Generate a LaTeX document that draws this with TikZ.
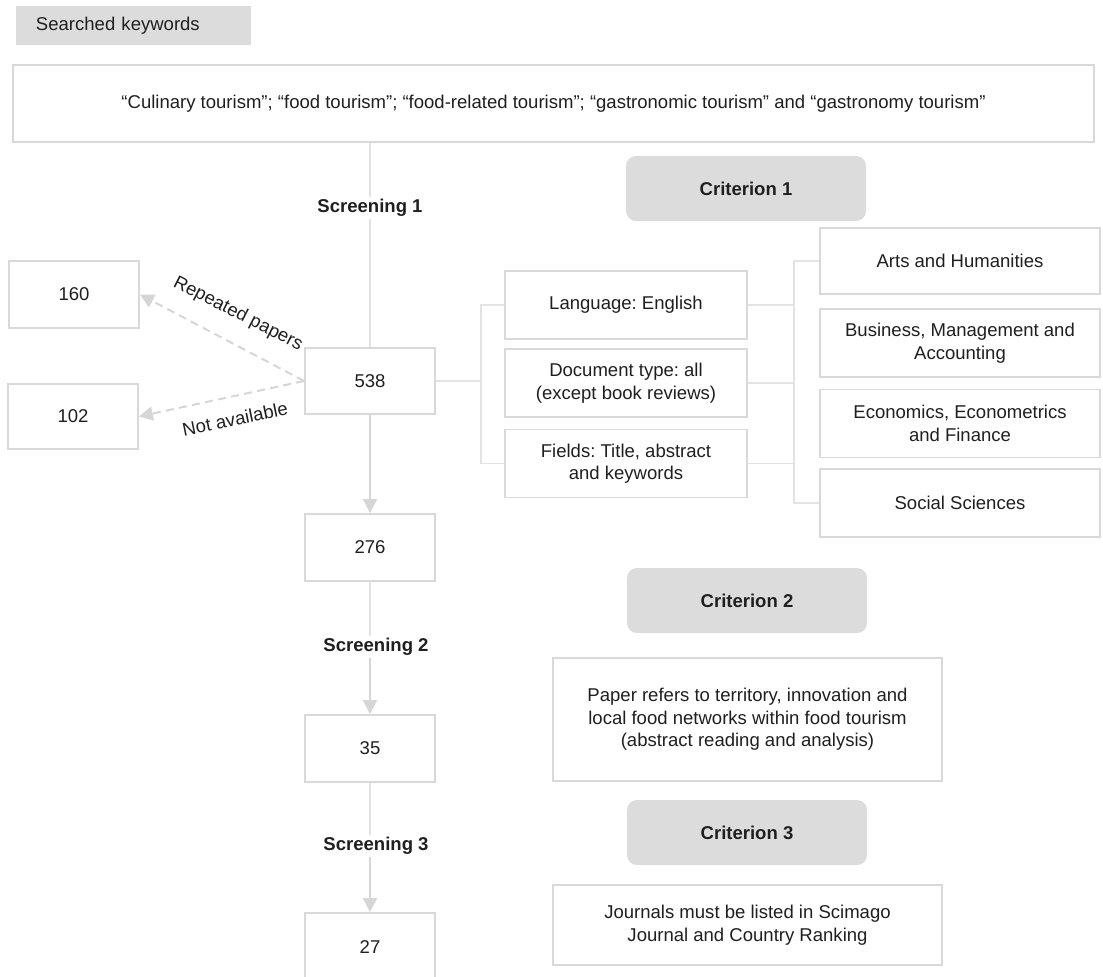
\documentclass[tikz,border=0pt]{standalone}
\usepackage{fontspec}
\setmainfont{Liberation Sans}
\usetikzlibrary{arrows.meta}
\definecolor{boxline}{HTML}{D9D9D9}
\definecolor{boxfill}{HTML}{DCDCDC}
\definecolor{connline}{HTML}{E3E3E3}
\definecolor{arrline}{HTML}{D6D6D6}
\frenchspacing
\begin{document}
\begin{tikzpicture}[x=0.75pt,y=-0.75pt,
  every node/.style={font=\fontsize{13.9}{16.9}\selectfont, text=black!88},
  box/.style={draw=boxline, line width=1.4pt, fill=white, align=center, inner sep=2pt},
  numbox/.style={box, minimum width=97.5pt, minimum height=50.25pt},
  critbox/.style={fill=boxfill, rounded corners=7.5pt, minimum width=180pt, minimum height=48.75pt, font=\fontsize{13.9}{16.9}\selectfont\bfseries},
  screen/.style={fill=white, inner sep=1.5pt, font=\fontsize{13.9}{16.9}\selectfont\bfseries},
  conn/.style={draw=connline, line width=1pt},
  arr/.style={draw=arrline, line width=1.5pt, -{Triangle[width=10.5pt,length=10.5pt]}},
  darr/.style={draw=arrline, line width=1.5pt, dash pattern=on 6pt off 4pt, -{Triangle[width=10.5pt,length=10.5pt]}}
]
\useasboundingbox (0,0) rectangle (1103,976);

% header
\node[fill=boxfill, minimum width=176.25pt, minimum height=29.25pt, text width=146.25pt, inner xsep=15pt, align=left] (kw) at (133.5,25.5) {Searched keywords};
\node[box, minimum width=810.75pt, minimum height=57.75pt] (top) at (553.5,103.5) {“Culinary tourism”; “food tourism”; “food-related tourism”; “gastronomic tourism” and “gastronomy tourism”};

% main column
\node[numbox, minimum height=49.5pt] (b538) at (370,381) {538};
\node[numbox] (b276) at (370,547.5) {276};
\node[numbox] (b35) at (370,748.5) {35};
\node[numbox, minimum height=51pt] (b27) at (370,947) {27};
\node[numbox] (b160) at (74,294.5) {160};
\node[numbox, minimum height=48.75pt] (b102) at (73,416.5) {102};

\node[screen] (s1) at (370,208) {Screening 1};
\node[screen] (s2) at (376,647) {Screening 2};
\node[screen] (s3) at (376,846) {Screening 3};

% criteria
\node[critbox] (c1) at (746,188.5) {Criterion 1};
\node[critbox] (c2) at (747,600.5) {Criterion 2};
\node[critbox] (c3) at (747,832.5) {Criterion 3};

\node[box, minimum width=181.5pt, minimum height=51pt] (lang) at (626,305) {Language: English};
\node[box, minimum width=181.5pt, minimum height=51pt] (doc) at (626,383) {Document type: all\\(except book reviews)};
\node[box, minimum width=181.5pt, minimum height=51pt] (fields) at (626,463.5) {Fields: Title, abstract\\and keywords};

\node[box, minimum width=210pt, minimum height=49.5pt] (arts) at (960,261) {Arts and Humanities};
\node[box, minimum width=210pt, minimum height=51pt] (bus) at (960,343) {Business, Management and\\Accounting};
\node[box, minimum width=210pt, minimum height=51pt] (eco) at (960,423.5) {Economics, Econometrics\\and Finance};
\node[box, minimum width=210pt, minimum height=51pt] (soc) at (960,503) {Social Sciences};

\node[box, minimum width=291.75pt, minimum height=92.25pt] (paper) at (747.5,719.5) {Paper refers to territory, innovation and\\local food networks within food tourism\\(abstract reading and analysis)};
\node[box, minimum width=291.75pt, minimum height=60pt] (journ) at (747.5,925) {Journals must be listed in Scimago\\Journal and Country Ranking};

% brackets
\coordinate (brL) at (481,0);
\coordinate (brR) at (794,0);

% connectors main column
\draw[conn] (top.south -| b538) -- (s1.north -| b538);
\draw[conn] (s1.south -| b538) -- (b538.north);
\draw[arr] (b538.south) -- (b276.north);
\draw[conn] (b276.south) -- (s2.north -| b276);
\draw[arr] (s2.south -| b35) -- (b35.north);
\draw[conn] (b35.south) -- (s3.north -| b35);
\draw[arr] (s3.south -| b27) -- (b27.north);

% excluded
\draw[darr] (b538.west) -- (b160.east);
\draw[darr] (b538.west) -- (b102.east);
\node[rotate=-27] (lrep) at (238,314) {Repeated papers};
\node[rotate=11.5] (lna) at (235,419) {Not available};

% criterion 1 brackets
\draw[conn] (b538.east) -- (b538.east -| brL);
\draw[conn] (lang.west) -- (lang.west -| brL) -- (fields.west -| brL) -- (fields.west);
\draw[conn] (lang.east) -- (lang.east -| brR);
\draw[conn] (doc.east) -- (doc.east -| brR);
\draw[conn] (fields.east) -- (fields.east -| brR);
\draw[conn] (arts.west) -- (arts.west -| brR) -- (soc.west -| brR) -- (soc.west);
\end{tikzpicture}
\end{document}
